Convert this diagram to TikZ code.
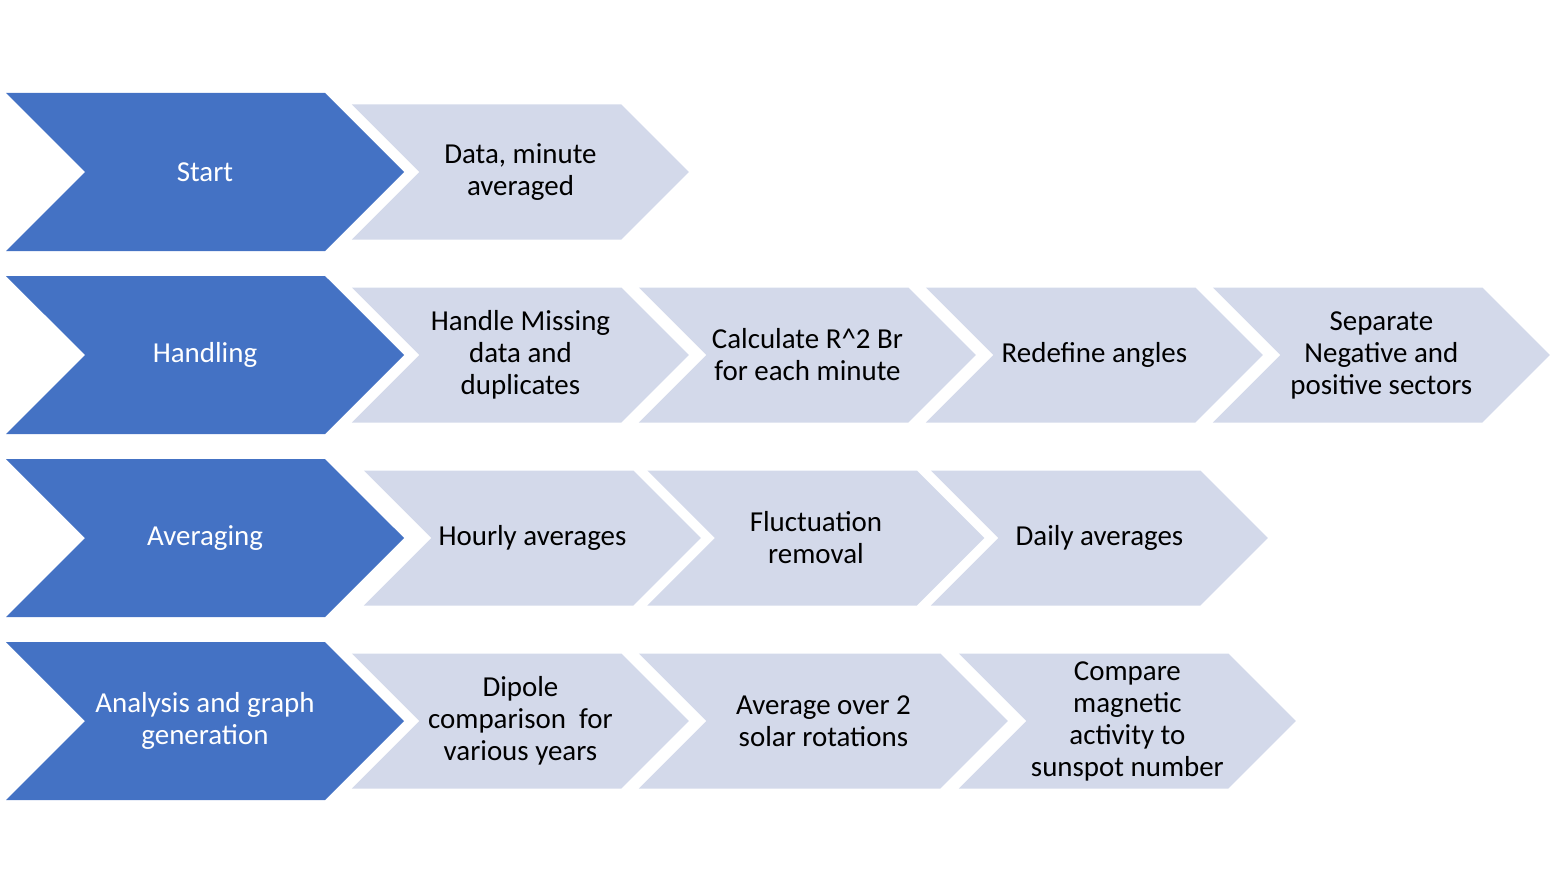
\documentclass[tikz,border=0pt]{standalone}
\usepackage{fontspec}
\setmainfont{Carlito}
\usetikzlibrary{positioning,chains,scopes,shapes.symbols}
\definecolor{stagecol}{HTML}{4472C4}
\definecolor{stepcol}{HTML}{D3D9EA}
\tikzset{
    chevron/.style = {
        signal,
        signal to = east,
        signal from = west,
        signal pointer angle = 90,
        inner sep = 0pt,
        outer sep = 0pt,
        align = center,
        font = \fontsize{21.7pt}{24pt}\selectfont,
        },
    stage/.style = {
        chevron,
        fill = stagecol,
        text = white,
        minimum width = 298.5pt,
        minimum height = 118.5pt,
        },
    stepbox/.style = {
        chevron,
        fill = stepcol,
        text = black,
        minimum width = 252.75pt,
        minimum height = 101.25pt,
        on chain,
        },
    wide/.style = {
        minimum width = 276.75pt,
        },
}
\begin{document}
\begin{tikzpicture}
    \useasboundingbox (0,0) rectangle (1163.25pt,-671.25pt);

    % stages
    \node [stage] (start) at (153.75pt,-129pt) {Start};
    \node [stage, below=18.75pt of start] (handling) {Handling};
    \node [stage, below=18.75pt of handling] (averaging) {Averaging};
    \node [stage, below=18.75pt of averaging] (analysis) {Analysis and graph\\generation};

    % steps
    { [start chain = r1 going right, node distance = 13.1pt]
        \chainin (start);
        \node [stepbox, xshift=-1.5pt] (data) {Data, minute\\averaged};
    }
    { [start chain = r2 going right, node distance = 13.1pt]
        \chainin (handling);
        \node [stepbox, xshift=-1.5pt] (missing) {Handle Missing\\data and\\duplicates};
        \node [stepbox] (calc) {Calculate R\^{}2 Br\\for each minute};
        \node [stepbox] (angles) {Redefine angles};
        \node [stepbox] (sectors) {Separate\\Negative and\\positive sectors};
    }
    { [start chain = r3 going right, node distance = 10.5pt]
        \chainin (averaging);
        \node [stepbox, xshift=10.1pt] (hourly) {Hourly averages};
        \node [stepbox] (fluct) {Fluctuation\\removal};
        \node [stepbox] (daily) {Daily averages};
    }
    { [start chain = r4 going right, node distance = 13.1pt]
        \chainin (analysis);
        \node [stepbox, xshift=-1.5pt] (dipole) {Dipole\\comparison\ \ for\\various years};
        \node [stepbox, wide] (rotations) {Average over 2\\solar rotations};
        \node [stepbox, xshift=0.75pt] (sunspot) {Compare\\magnetic\\activity to\\sunspot number};
    }
\end{tikzpicture}
\end{document}
